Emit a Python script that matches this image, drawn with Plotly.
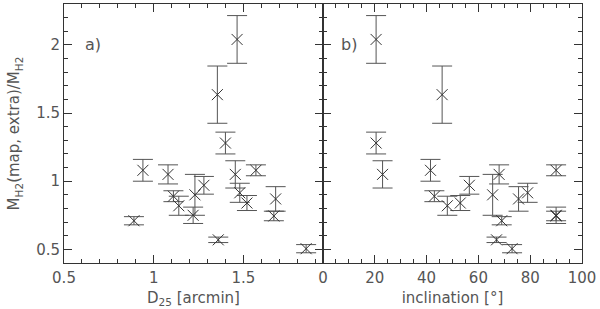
import plotly.graph_objects as go

# Data per galaxy
d25 = [0.89, 0.94, 1.08, 1.11, 1.14, 1.22, 1.23, 1.28, 1.36, 1.355, 1.40, 1.465, 1.455, 1.48, 1.52, 1.57, 1.68, 1.67, 1.85]
inclination = [69, 41.5, 68, 43, 48, 90, 65.5, 56.5, 67, 46, 20.5, 20.5, 23, 79, 53, 90, 75.5, 90, 73]
ratio = [0.71, 1.08, 1.05, 0.89, 0.82, 0.75, 0.90, 0.97, 0.57, 1.635, 1.28, 2.04, 1.05, 0.915, 0.84, 1.08, 0.87, 0.745, 0.505]
ratio_err = [0.03, 0.08, 0.07, 0.04, 0.07, 0.06, 0.15, 0.065, 0.02, 0.21, 0.08, 0.175, 0.10, 0.07, 0.055, 0.04, 0.09, 0.035, 0.03]

ink = "#333333"
font = dict(family="DejaVu Sans", size=15, color="#555555")

fig = go.Figure()
for xs, xa, ya in [(d25, "x", "y"), (inclination, "x2", "y2")]:
    fig.add_trace(go.Scatter(
        x=xs, y=ratio, mode="markers", xaxis=xa, yaxis=ya,
        marker=dict(symbol="x-thin-open", size=11, color=ink, line=dict(color=ink, width=1)),
        error_y=dict(type="data", array=ratio_err, visible=True, color="#555555",
                     thickness=1, width=10),
        showlegend=False,
    ))

axis_common = dict(showline=True, linecolor=ink, linewidth=1, mirror="ticks",
                   ticks="inside", ticklen=8, tickcolor=ink, showgrid=False,
                   zeroline=False, tickfont=font, automargin=False)

fig.update_layout(
    width=600, height=309,
    margin=dict(l=64, r=18, t=4, b=46),
    paper_bgcolor="white", plot_bgcolor="white",
    font=font,
    xaxis=dict(domain=[0, 0.5], range=[0.5, 1.944], dtick=0.5, tick0=0.5,
               ticklabelstandoff=1,
               minor=dict(ticks="inside", dtick=0.1, ticklen=4, tickcolor=ink),
               title=dict(text="D<sub>25</sub> [arcmin]", font=font, standoff=6),
               **axis_common),
    yaxis=dict(range=[0.4, 2.3], dtick=0.5, tick0=0.5,
               minor=dict(ticks="inside", dtick=0.1, ticklen=4, tickcolor=ink),
               title=dict(text="M<sub>H2</sub>(map, extra)/M<sub>H2</sub>", font=font, standoff=12),
               **axis_common),
    xaxis2=dict(domain=[0.5, 1], range=[0, 100], dtick=20, anchor="y2",
                ticklabelstandoff=1,
                minor=dict(ticks="inside", dtick=5, ticklen=4, tickcolor=ink),
                title=dict(text="inclination [°]", font=font, standoff=6),
                **axis_common),
    yaxis2=dict(range=[0.4, 2.3], dtick=0.5, tick0=0.5, anchor="x2",
                showticklabels=False,
                minor=dict(ticks="inside", dtick=0.1, ticklen=4, tickcolor=ink),
                **axis_common),
    annotations=[
        dict(text="a)", x=0.66, y=2.0, xref="x", yref="y", showarrow=False,
             font=dict(family="DejaVu Sans", size=16, color="#555555")),
        dict(text="b)", x=10, y=2.0, xref="x2", yref="y2", showarrow=False,
             font=dict(family="DejaVu Sans", size=16, color="#555555")),
    ],
)

fig.write_html("out.html", config={"displayModeBar": False},
               post_script="document.body.style.margin='0';")
